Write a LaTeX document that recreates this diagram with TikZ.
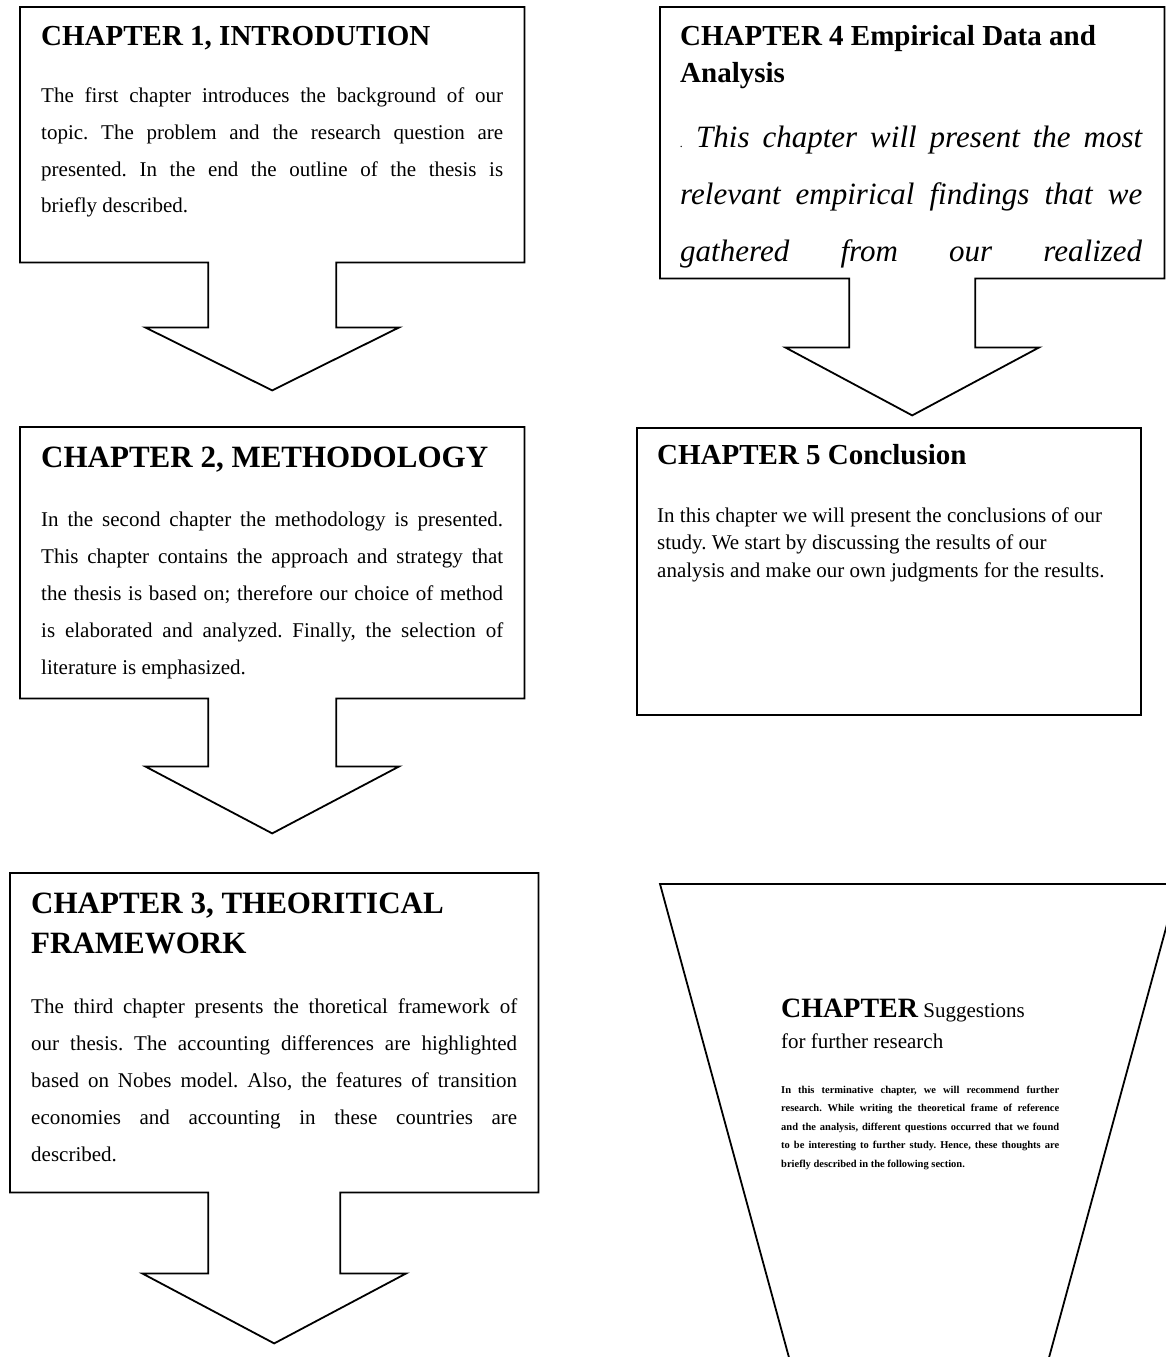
\documentclass[tikz,border=0pt]{standalone}
\usepackage{fontspec}
\setmainfont{Liberation Serif}
\usetikzlibrary{positioning,calc}
\tikzset{
outline/.style={line width=1.8pt, line join=miter}, % border of every box and arrow
chapbox/.style={inner sep=0pt, anchor=north west, minimum width=504pt}, % frame of one chapter
chaptext/.style={anchor=base west, inner sep=0pt, align=justify, text width=462pt}, % text inside a frame
}
\newcommand{\bodysize}{\fontsize{21}{37}\selectfont}
\frenchspacing

\begin{document}
\begin{tikzpicture}[x=1pt, y=-1pt]
  \useasboundingbox (0,0) rectangle (1166,1357);
  \clip (0,0) rectangle (1166,1357);

  % frames
  \node[chapbox, minimum height=255pt] (c1) at (20,7) {};
  \node[chapbox, minimum height=271pt] (c2) at (20,427) {};
  \node[chapbox, minimum width=528pt, minimum height=319pt] (c3) at (10,873) {};
  \node[chapbox, minimum height=271pt] (c4) at (660,7) {};
  \node[chapbox, minimum height=287pt, draw, outline] (c5) at (636,427) {};

  % tips of the arrows
  \coordinate (t1) at ($(c1.south)+(0,128)$);
  \coordinate (t2) at ($(c2.south)+(0,135)$);
  \coordinate (t3) at ($(c3.south)+(0,151)$);
  \coordinate (t4) at ($(c4.south)+(0,137)$);

  \draw[outline] (c1.south west) -- (c1.north west) -- (c1.north east) -- (c1.south east)
    -- ($(c1.south)+(64,0)$) |- ($(t1)+(127,-63)$) -- (t1) -- ($(t1)+(-127,-63)$)
    -| ($(c1.south)+(-64,0)$) -- cycle;
  \draw[outline] (c2.south west) -- (c2.north west) -- (c2.north east) -- (c2.south east)
    -- ($(c2.south)+(64,0)$) |- ($(t2)+(127,-67)$) -- (t2) -- ($(t2)+(-127,-67)$)
    -| ($(c2.south)+(-64,0)$) -- cycle;
  \draw[outline] (c3.south west) -- (c3.north west) -- (c3.north east) -- (c3.south east)
    -- ($(c3.south)+(66,0)$) |- ($(t3)+(132,-70)$) -- (t3) -- ($(t3)+(-132,-70)$)
    -| ($(c3.south)+(-66,0)$) -- cycle;
  \draw[outline] (c4.south west) -- (c4.north west) -- (c4.north east) -- (c4.south east)
    -- ($(c4.south)+(63,0)$) |- ($(t4)+(127,-68)$) -- (t4) -- ($(t4)+(-127,-68)$)
    -| ($(c4.south)+(-63,0)$) -- cycle;

  % funnel of the last chapter
  \coordinate (s-tl) at (660,884);
  \coordinate (s-tr) at (1178,884);
  \draw[outline] (s-tl) -- (s-tr) -- (1032,1420) -- (806,1420) -- cycle;

  \node[chaptext] (h1) at ($(c1.north west)+(21,38)$) {%
    {\fontsize{29}{35}\selectfont\bfseries CHAPTER 1, INTRODUTION\par}
    \vspace{20pt}
    {\bodysize The first chapter introduces the background of our\linebreak
    topic. The problem and the research question are\linebreak
    presented. In the end the outline of the thesis is\linebreak
    briefly described.\par}};

  \node[chaptext] (h2) at ($(c2.north west)+(21,40)$) {%
    {\fontsize{31}{35}\selectfont\bfseries CHAPTER 2, METHODOLOGY\par}
    \vspace{22pt}
    {\bodysize In the second chapter the methodology is presented.\linebreak
    This chapter contains the approach and strategy that\linebreak
    the thesis is based on; therefore our choice of method\linebreak
    is elaborated and analyzed. Finally, the selection of\linebreak
    literature is emphasized.\par}};

  \node[chaptext, text width=486pt] (h3) at ($(c3.north west)+(21,40)$) {%
    {\fontsize{31}{40}\selectfont\bfseries CHAPTER 3, THEORITICAL\\ FRAMEWORK\par}
    \vspace{23pt}
    {\bodysize The third chapter presents the thoretical framework of\linebreak
    our thesis. The accounting differences are highlighted\linebreak
    based on Nobes model. Also, the features of transition\linebreak
    economies and accounting in these countries are\linebreak
    described.\par}};

  \node[chaptext] (h4) at ($(c4.north west)+(20,38)$) {%
    {\fontsize{29}{37}\selectfont\bfseries CHAPTER 4 Empirical Data and\\ Analysis\par}
    \vspace{9pt}
    {\fontsize{31}{57}\selectfont\itshape\parfillskip=0pt
    {\fontsize{12}{12}\selectfont .} This chapter will present the most\linebreak
    relevant empirical findings that we\linebreak
    gathered from our realized\par}};

  \node[chaptext, align=left, text width=470pt] (h5) at ($(c5.north west)+(21,37)$) {%
    \spaceskip=0pt \xspaceskip=0pt
    {\fontsize{29}{35}\selectfont\bfseries CHAPTER 5 Conclusion\par}
    \vspace{30.5pt}
    {\fontsize{21}{27.5}\selectfont In this chapter we will present the conclusions of our\\
    study. We start by discussing the results of our\\
    analysis and make our own judgments for the results.\par}};

  \node[chaptext, text width=278pt] (h6) at ($(s-tl)+(121,133)$) {%
    {\fontsize{21}{31}\selectfont{\fontsize{28}{31}\selectfont\bfseries CHAPTER} Suggestions\\
    for further research\par}
    \vspace{26.5pt}
    {\fontsize{10.5}{18.5}\selectfont\bfseries In this terminative chapter, we will recommend further\linebreak
    research. While writing the theoretical frame of reference\linebreak
    and the analysis, different questions occurred that we found\linebreak
    to be interesting to further study. Hence, these thoughts are\linebreak
    briefly described in the following section.\par}};
\end{tikzpicture}
\end{document}
